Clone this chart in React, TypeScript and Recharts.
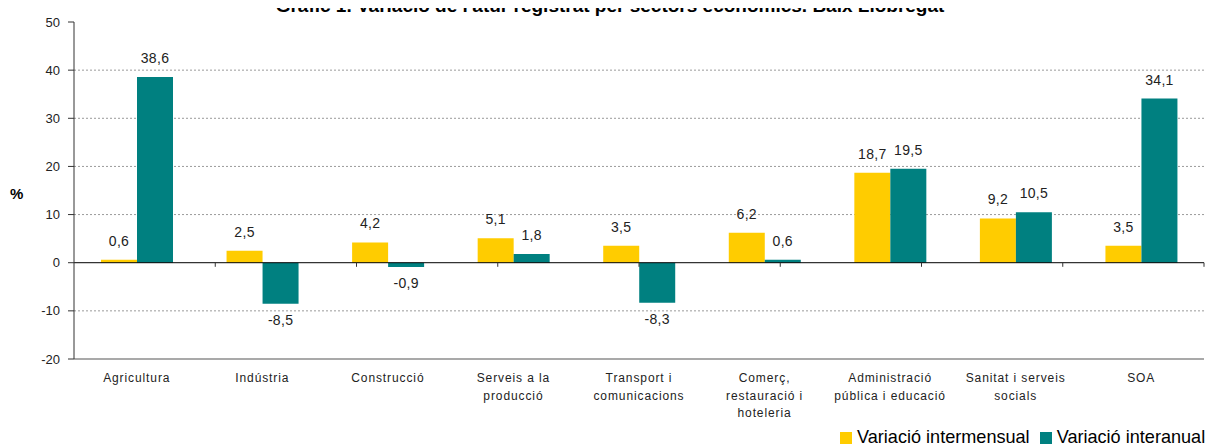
import {
  BarChart,
  Bar,
  XAxis,
  YAxis,
  CartesianGrid,
  ReferenceLine,
  ReferenceArea,
  LabelList,
} from "recharts";

const categories = [
  "Agricultura",
  "Indústria",
  "Construcció",
  "Serveis a la\nproducció",
  "Transport i\ncomunicacions",
  "Comerç,\nrestauració i\nhoteleria",
  "Administració\npública i educació",
  "Sanitat i serveis\nsocials",
  "SOA",
];

const intermensual = [0.6, 2.5, 4.2, 5.1, 3.5, 6.2, 18.7, 9.2, 3.5];
const interanual = [38.6, -8.5, -0.9, 1.8, -8.3, 0.6, 19.5, 10.5, 34.1];

const yTicks = [-20, -10, 0, 10, 20, 30, 40, 50];
const gridValues = [-10, 10, 20, 30, 40];
const boundaries = [1, 2, 3, 4, 5, 6, 7, 8, 9];

const data = categories.map((name, i) => ({
  name,
  intermensual: intermensual[i],
  interanual: interanual[i],
}));

const FONT = "'Liberation Sans', Arial, sans-serif";
const YELLOW = "#FFCC00";
const TEAL = "#008080";

const fmt = (v: number) => v.toFixed(1).replace(".", ",");

// category label, split on line breaks
const CategoryTick = (props: any) => {
  const { x, y, payload } = props;
  const lines = String(payload.value).split("\n");
  return (
    <g>
      {lines.map((line: string, i: number) => (
        <text
          key={i}
          x={x}
          y={y + 23 + i * 17.5}
          textAnchor="middle"
          fontSize={12}
          letterSpacing={0.9}
          fill="#222"
          fontFamily={FONT}
        >
          {line}
        </text>
      ))}
    </g>
  );
};

// value label above positive bars, below negative ones
const ValueLabel = (props: any) => {
  const { x, y, width, height, value } = props;
  const top = Math.min(y, y + height);
  const bottom = Math.max(y, y + height);
  const ty = value >= 0 ? top - 14 : bottom + 21;
  return (
    <text
      x={x + width / 2}
      y={ty}
      textAnchor="middle"
      fontSize={14}
      letterSpacing={0.3}
      fill="#222"
      fontFamily={FONT}
    >
      {fmt(value)}
    </text>
  );
};

export default function App() {
  return (
    <div
      style={{
        position: "relative",
        width: 1216,
        height: 447,
        margin: "-8px 0 0 -8px",
        fontFamily: FONT,
      }}
    >
      <BarChart
        width={1216}
        height={447}
        data={data}
        margin={{ top: 22, right: 12, bottom: 0, left: 0 }}
        barSize={36}
        barGap={0}
      >
        <CartesianGrid
          vertical={false}
          horizontalValues={gridValues}
          stroke="#9a9a9a"
          strokeDasharray="2 2"
        />

        <XAxis
          dataKey="name"
          height={88}
          axisLine={false}
          tickLine={false}
          tickSize={0}
          tickMargin={0}
          interval={0}
          tick={<CategoryTick />}
        />

        <XAxis xAxisId="b" type="number" domain={[0, 9]} hide allowDataOverflow />

        <YAxis
          width={74}
          domain={[-20, 50]}
          ticks={yTicks}
          interval={0}
          tickSize={6}
          tickMargin={8}
          axisLine={{ stroke: "#333" }}
          tickLine={{ stroke: "#333" }}
          tick={{ fontSize: 13, fill: "#222", fontFamily: FONT }}
          label={{
            value: "%",
            position: "insideLeft",
            offset: 10,
            dy: 3,
            style: { fontSize: 15, fontWeight: "bold", fill: "#000", fontFamily: FONT },
          }}
        />

        <ReferenceArea
          xAxisId="b"
          x1={0}
          x2={9}
          y1={-20}
          y2={50}
          fill="none"
          stroke="#8c8c8c"
          strokeWidth={1.5}
        />

        <Bar dataKey="intermensual" fill={YELLOW} isAnimationActive={false}>
          <LabelList dataKey="intermensual" content={<ValueLabel />} />
        </Bar>

        <Bar dataKey="interanual" fill={TEAL} isAnimationActive={false}>
          <LabelList dataKey="interanual" content={<ValueLabel />} />
        </Bar>

        <ReferenceLine y={0} stroke="#000" strokeWidth={1} />

        {boundaries.map((b) => (
          <ReferenceLine
            key={b}
            xAxisId="b"
            segment={[
              { x: b, y: 0 },
              { x: b, y: -0.85 },
            ]}
            stroke="#333"
          />
        ))}

        <ReferenceLine y={-20} stroke="#8c8c8c" strokeWidth={1.5} />
      </BarChart>

      {/* Title (cut off at the top in the original) */}

      <div
        style={{
          position: "absolute",
          zIndex: 2,
          top: -4.5,
          left: 0,
          width: 1220,
          textAlign: "center",
          fontWeight: "bold",
          fontSize: 19,
          lineHeight: "19px",
          color: "#000",
          whiteSpace: "nowrap",
        }}
      >
        Gràfic 1. Variació de l'atur registrat per sectors econòmics. Baix Llobregat
      </div>

      {/* Legend */}

      <div
        style={{
          position: "absolute",
          left: 840,
          top: 427,
          display: "flex",
          alignItems: "center",
          fontSize: 18.1,
          color: "#000",
          whiteSpace: "nowrap",
        }}
      >
        <span style={{ width: 12, height: 12, background: YELLOW, marginRight: 5, display: "inline-block" }} />
        <span style={{ marginRight: 10 }}>Variació intermensual</span>
        <span style={{ width: 12, height: 12, background: TEAL, marginRight: 5, display: "inline-block" }} />
        <span>Variació interanual</span>
      </div>
    </div>
  );
}
